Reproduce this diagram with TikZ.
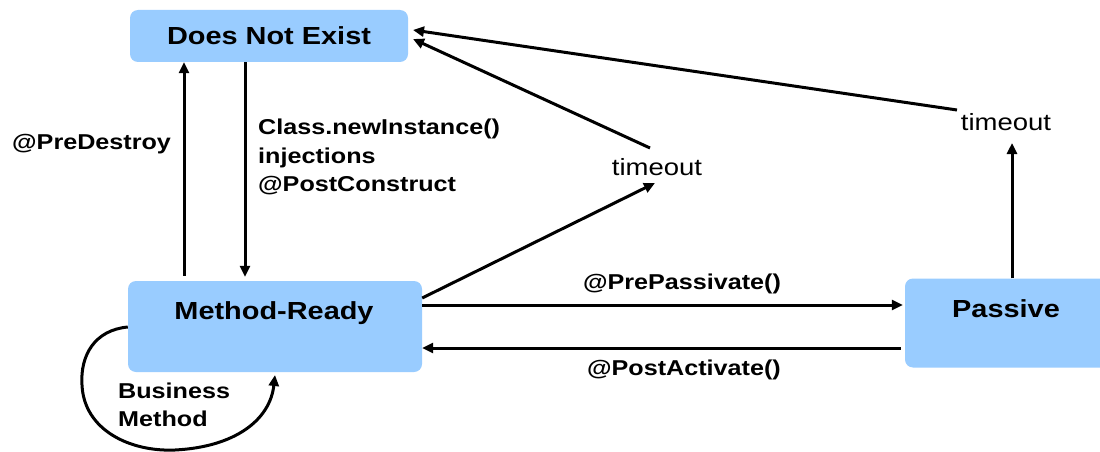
\documentclass[tikz,border=0pt]{standalone}
\usepackage{fontspec}
\setmainfont{Liberation Sans}[FakeStretch=1.17]
\usetikzlibrary{arrows.meta}
\definecolor{boxblue}{RGB}{153,204,255}
\begin{document}
\begin{tikzpicture}[x=1pt,y=-1pt,
  state/.style={fill=boxblue, rounded corners=8pt, draw=none, inner sep=0pt},
  title/.style={font=\fontsize{24.7}{29}\selectfont\bfseries, inner sep=0pt},
  lab/.style={font=\fontsize{21.5}{28.5}\selectfont\bfseries, inner sep=0pt, align=left},
  tlab/.style={font=\fontsize{23.5}{27}\selectfont, inner sep=0pt},
  arr/.style={line width=3pt, -{Triangle[length=11pt,width=10pt]}},
  ]
\clip (0,0) rectangle (1100,452);
\fill[white] (0,0) rectangle (1100,452);

% states
\node[state, minimum width=278pt, minimum height=52pt] (dne) at (269,36) {};
\node[title, anchor=base] (dnet) at (269,45) {Does Not Exist};
\node[state, minimum width=294pt, minimum height=91pt] (mr) at (275,326.5) {};
\node[title, anchor=base] (mrt) at (274,319) {Method-Ready};
\node[state, minimum width=215pt, minimum height=89pt] (pas) at (1012.5,323) {};
\node[title, anchor=base] (past) at (1006,317) {Passive};

% labels
\node[lab, anchor=base west] (pd) at (12,149) {@PreDestroy};
\node[lab, anchor=west] (cls) at (258,157) {Class.newInstance()\\injections\\@PostConstruct};
\node[tlab, anchor=base] (tm) at (657,175) {timeout};
\node[tlab, anchor=base] (tr) at (1006,130) {timeout};
\node[lab, anchor=base] (pp) at (682,289) {@PrePassivate()};
\node[lab, anchor=base] (pa) at (684,375) {@PostActivate()};
\node[lab, anchor=west] (bm) at (118,405) {Business\\Method};

% connector end points
\coordinate (tmIn) at (655,183);
\coordinate (tmOut) at (650,148);
\coordinate (trOut) at (957,110);
\coordinate (trIn) at (1012,143);
\coordinate (dneR1) at (413,30);
\coordinate (dneR2) at (413,39);
\coordinate (loopEnd) at (275,375);

% connectors
\draw[arr, shorten <=5pt] (184,0 |- mr.north) -- (184,0 |- dne.south);
\draw[arr, shorten >=4pt] (245,0 |- dne.south) -- (245,0 |- mr.north);
\draw[arr] (mr.east |- 0,298) -- (tmIn);
\draw[arr] (tmOut) -- (dneR2);
\draw[arr] (trOut) -- (dneR1);
\draw[arr] (1012,0 |- pas.north) -- (trIn);
\draw[arr, shorten >=2pt] (mr.east |- 0,305) -- (pas.west |- 0,305);
\draw[arr, shorten <=4pt] (pas.west |- 0,348) -- (mr.east |- 0,348);
\draw[arr] (mr.west |- 0,327) .. controls (95,330) and (80,355) .. (82,385)
  .. controls (84,430) and (130,452) .. (175,450)
  .. controls (235,447) and (270,420) .. (loopEnd);
\end{tikzpicture}
\end{document}
